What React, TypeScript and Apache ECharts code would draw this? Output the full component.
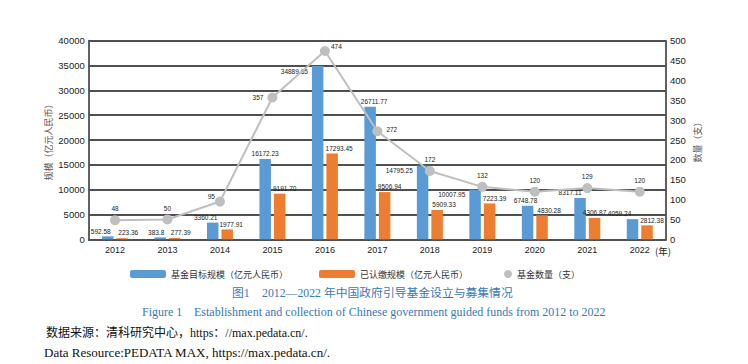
import React, { useEffect, useRef } from "react";
import * as echarts from "echarts";

const years = ["2012", "2013", "2014", "2015", "2016", "2017", "2018", "2019", "2020", "2021", "2022"];
const targetScale = ["592.58", "383.8", "3360.21", "16172.23", "34889.65", "26711.77", "14795.25", "10007.95", "6748.78", "8317.11", "4059.24"];
const paidScale = ["223.36", "277.39", "1977.91", "9191.70", "17293.45", "9506.94", "5909.33", "7223.39", "4830.28", "4306.87", "2812.38"];
const fundCount = [48, 50, 95, 357, 474, 272, 172, 132, 120, 129, 120];

const seriesNames = ["基金目标规模（亿元人民币）", "已认缴规模（亿元人民币）", "基金数量（支）"];

// label placement styles (not data)
const blueLabelPlace: Array<number | "side"> = [-7, -4, -7, 0, "side", 4, "side", "side", -2, -10, -13];
const orangeLabelShift = [6, 6, 4, 5, 7, 5, 7, 5, 7, 0, 5];
const lineLabelPlace = ["top", "top", "left", "left", "right", "right", "top", "top", "top", "top", "top"];

const FONT = "'Liberation Sans', Arial, 'Noto Sans CJK SC', sans-serif";
const CJK = "'Noto Sans CJK SC', 'Liberation Sans', sans-serif";
const SERIF = "'Liberation Serif', 'Times New Roman', 'Noto Sans CJK SC', serif";

export default function App() {
  const ref = useRef<HTMLDivElement>(null);
  useEffect(() => {
    if (!ref.current) return;
    const chart = echarts.init(ref.current, undefined, { renderer: "svg" });
    const labelFont = { fontSize: 6.5, color: "#1a1a1a", fontFamily: FONT };

    const blueData = targetScale.map((v, i) => {
      const p = blueLabelPlace[i];
      const label =
        p === "side"
          ? { show: true, position: [-4, 5], align: "right", verticalAlign: "middle", ...labelFont, formatter: v }
          : { show: true, position: "top", distance: 2, offset: [p as number, 0], ...labelFont, formatter: v };
      return { value: Number(v), label };
    });
    const orangeData = paidScale.map((v, i) => ({
      value: Number(v),
      label: { show: true, position: "top", distance: 2, offset: [orangeLabelShift[i], 0], ...labelFont, formatter: v },
    }));
    const lineData = fundCount.map((v, i) => {
      const pos = lineLabelPlace[i];
      let offset = [0, 0];
      let distance = 3;
      if (i === 2) { offset = [0, -5]; distance = 0; }
      if (i === 3) distance = 4;
      if (i === 4) { offset = [0, -5]; distance = 1; }
      if (i === 5) { offset = [0, -2]; distance = 4; }
      return { value: v, label: { show: true, position: pos, distance, offset, ...labelFont } };
    });

    const axisColor = "#505050";
    chart.setOption({
      animation: false,
      textStyle: { fontFamily: FONT },
      grid: { left: 88.75, right: 82, top: 40.7, bottom: 124.7, containLabel: false },
      legend: [
        {
          data: [seriesNames[0], seriesNames[1]],
          left: 125,
          top: 264.5,
          itemWidth: 36,
          itemHeight: 8,
          itemGap: 31,
          textStyle: { fontSize: 9, color: "#333", fontFamily: CJK },
          selectedMode: false,
        },
        {
          data: [{ name: seriesNames[2], icon: "circle" }],
          left: 499,
          top: 264.5,
          itemWidth: 8,
          itemHeight: 8,
          textStyle: { fontSize: 9, color: "#333", fontFamily: CJK },
          selectedMode: false,
        },
      ],
      xAxis: {
        type: "category",
        data: years,
        axisLine: { show: true, lineStyle: { color: axisColor, width: 1.8 } },
        axisTick: { show: false },
        axisLabel: { fontSize: 9, color: "#222", margin: 6, fontFamily: FONT },
      },
      yAxis: [
        {
          type: "value",
          min: 0,
          max: 40000,
          interval: 5000,
          name: "规模（亿元人民币）",
          nameLocation: "middle",
          nameRotate: 90,
          nameGap: 36,
          nameMoveOverlap: false,
          nameTextStyle: { fontSize: 9, color: "#595959", fontFamily: CJK },
          axisLine: { show: true, lineStyle: { color: axisColor, width: 1.8 } },
          axisTick: { show: false },
          axisLabel: { fontSize: 9.5, color: "#222", margin: 4, fontFamily: FONT, formatter: (v: number) => String(v) },
          splitLine: { show: true, lineStyle: { color: axisColor, width: 1.8 } },
        },
        {
          type: "value",
          min: 0,
          max: 500,
          interval: 50,
          position: "right",
          name: "数量（支）",
          nameLocation: "middle",
          nameRotate: 90,
          nameGap: 27,
          nameMoveOverlap: false,
          nameTextStyle: { fontSize: 9, color: "#595959", fontFamily: CJK },
          axisLine: { show: true, lineStyle: { color: axisColor, width: 1.8 } },
          axisTick: { show: false },
          axisLabel: { fontSize: 9.5, color: "#222", margin: 4, fontFamily: FONT, formatter: (v: number) => String(v) },
          splitLine: { show: false },
        },
      ],
      series: [
        {
          name: seriesNames[0],
          type: "bar",
          yAxisIndex: 0,
          data: blueData,
          barWidth: 11.5,
          barGap: "26%",
          itemStyle: { color: "#5b9bd5" },
        },
        {
          name: seriesNames[1],
          type: "bar",
          yAxisIndex: 0,
          data: orangeData,
          barWidth: 11.5,
          itemStyle: { color: "#ed7d31" },
        },
        {
          name: seriesNames[2],
          type: "line",
          yAxisIndex: 1,
          data: lineData,
          symbol: "circle",
          symbolSize: 10,
          lineStyle: { color: "#bfbfbf", width: 2 },
          itemStyle: { color: "#bfbfbf" },
          z: 5,
        },
      ],
      graphic: [
        { type: "text", left: 655, top: 246, style: { text: "(年)", fill: "#222", font: `9.5px ${CJK}` } },
        { type: "text", left: 232, top: 287, style: { text: "图1", fill: "#3a78b8", font: `11.8px ${SERIF}` } },
        { type: "text", left: 262, top: 287, style: { text: "2012—2022 年中国政府引导基金设立与募集情况", fill: "#3a78b8", font: `11.8px ${SERIF}` } },
        { type: "text", left: 142, top: 306, style: { text: "Figure 1", fill: "#3a78b8", font: `12px ${SERIF}` } },
        { type: "text", left: 194, top: 306, style: { text: "Establishment and collection of Chinese government guided funds from 2012 to 2022", fill: "#3a78b8", font: `12px ${SERIF}` } },
        { type: "text", left: 46, top: 327, style: { text: "数据来源：清科研究中心，https：//max.pedata.cn/.", fill: "#111", font: `12px ${SERIF}` } },
        { type: "text", left: 44, top: 346, style: { text: "Data Resource:PEDATA MAX, https://max.pedata.cn/.", fill: "#111", font: `13px ${SERIF}` } },
      ],
    });
    return () => chart.dispose();
  }, []);
  return <div ref={ref} style={{ position: "fixed", left: 0, top: 0, width: 748, height: 364, background: "#fff" }} />;
}
